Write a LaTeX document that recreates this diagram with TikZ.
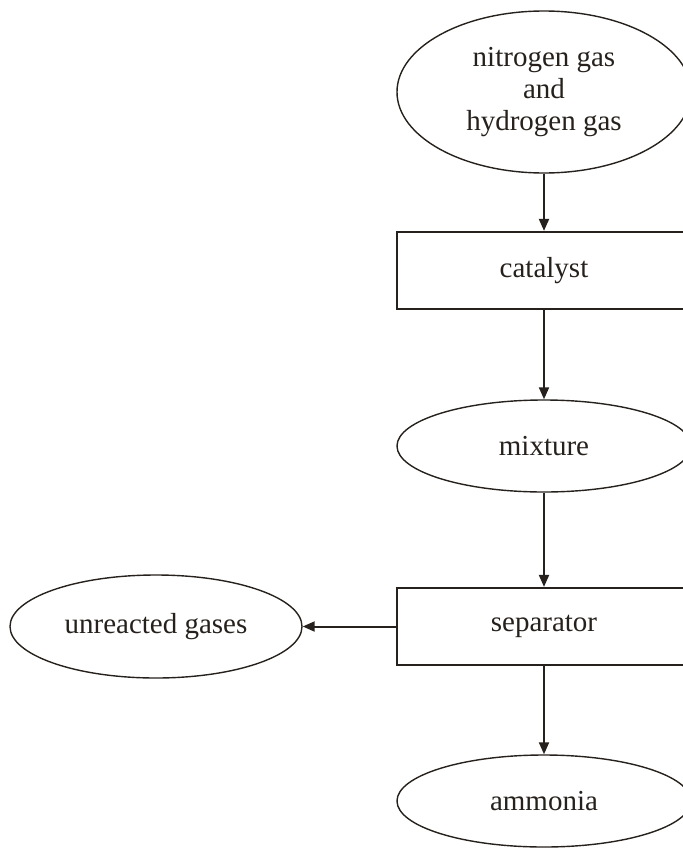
\documentclass[tikz,border=0pt]{standalone}
\usepackage{fontspec}
\setmainfont{Liberation Serif}
\usetikzlibrary{shapes.geometric,arrows.meta}
\definecolor{ink}{RGB}{38,33,28}
\begin{document}
\begin{tikzpicture}[x=1bp,y=-1bp,
  lbl/.style={font=\fontsize{29bp}{32bp}\selectfont, align=center, text=ink},
  oval/.style={ellipse, draw=ink, line width=1.4bp, inner sep=0pt, lbl},
  boxnode/.style={rectangle, draw=ink, line width=2.2bp, inner sep=0pt, lbl,
                  minimum width=294bp, minimum height=77bp},
  flow/.style={-{Triangle[length=12bp,width=10bp]}, line width=2bp, draw=ink}]
\useasboundingbox (0,0) rectangle (683,849);
\clip (0,0) rectangle (683,849);
\node[oval, minimum width=294bp, minimum height=162bp] (feed) at (544,92)
  {nitrogen gas\\and\\hydrogen gas};
\node[boxnode] (cat) at (544,270.5) {catalyst};
\node[oval, minimum width=294bp, minimum height=92bp] (mix) at (544,446) {mixture};
\node[boxnode] (sep) at (544,626.5) {separator};
\node[oval, minimum width=292bp, minimum height=103bp] (unr) at (156,626.5) {unreacted gases};
\node[oval, minimum width=294bp, minimum height=92bp] (amm) at (544,801) {ammonia};
\draw[flow] (feed) -- (cat);
\draw[flow] (cat) -- (mix);
\draw[flow] (mix) -- (sep);
\draw[flow] (sep) -- (amm);
\draw[flow] (sep.west) -- (unr.east);
\end{tikzpicture}
\end{document}
